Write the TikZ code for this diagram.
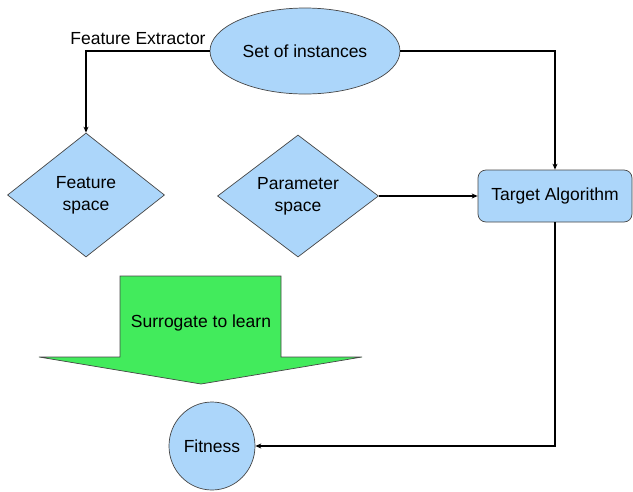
\documentclass[tikz,border=0pt]{standalone}
\usepackage{fontspec}
\setmainfont{Liberation Sans}
\usetikzlibrary{shapes.geometric,arrows.meta}
\definecolor{nodeblue}{RGB}{172,214,250}
\definecolor{arrowgreen}{RGB}{66,235,92}
\definecolor{edgegray}{RGB}{70,70,70}
\begin{document}
\begin{tikzpicture}[x=1pt,y=-1pt,
  every node/.style={font=\fontsize{17.5}{22}\selectfont},
  bluefill/.style={draw=edgegray,fill=nodeblue,line width=0.7pt,inner sep=0pt,align=center},
  conn/.style={line width=1.4pt,-{Stealth[length=6pt,width=5pt]}}]
\useasboundingbox (0,0) rectangle (633,491);
\node[bluefill,ellipse,minimum width=190pt,minimum height=86pt] (si) at (305,51) {Set of instances};
\node[bluefill,diamond,minimum width=157pt,minimum height=124pt] (fs) at (86,195) {Feature\\space};
\node[bluefill,diamond,minimum width=161pt,minimum height=122pt] (ps) at (298,196) {Parameter\\space};
\node[bluefill,rounded corners=8pt,minimum width=154pt,minimum height=52pt] (ta) at (555,196) {Target Algorithm};
\node[bluefill,ellipse,minimum width=86pt,minimum height=88pt] (fit) at (212,446) {Fitness};
\node (fe) at (138,39) {Feature Extractor};
\draw[draw=edgegray,fill=arrowgreen,line width=0.7pt] (120,276) -- (281,276) -- (281,357) -- (362,357) -- (201,384) -- (39,357) -- (120,357) -- cycle;
\node (surr) at (201,323) {Surrogate to learn};
\draw[conn] (si.west) -| (fs.north);
\draw[conn] (si.east) -| (ta.north);
\draw[conn] (ps.east) -- (ta.west);
\draw[conn] (ta.south) |- (fit.east);
\end{tikzpicture}
\end{document}
